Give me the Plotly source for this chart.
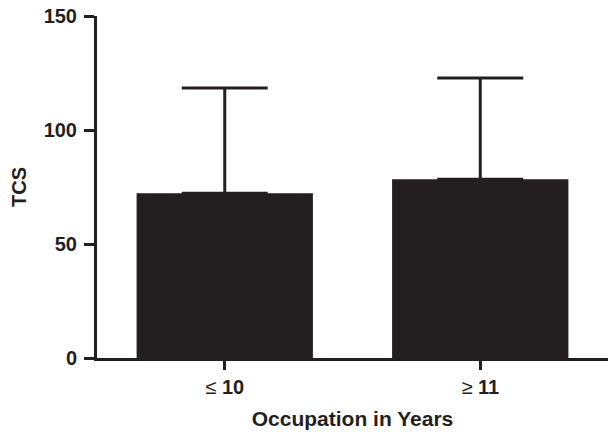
import plotly.graph_objects as go

categories = ["≤ <b>10</b>", "≥ <b>11</b>"]
means = [72.3, 78.4]
sd_upper = [46.1, 44.4]
y_ticks = [0, 50, 100, 150]

ink = "#231f20"
family = "Liberation Sans, Arial, Helvetica, sans-serif"
font = dict(family=family, size=20, color=ink)

fig = go.Figure(
    go.Bar(
        x=[0, 1],
        y=means,
        width=0.69,
        marker=dict(color=ink, line=dict(width=0)),
        error_y=dict(type="data", array=sd_upper, symmetric=False, arrayminus=[0, 0],
                     color=ink, thickness=3, width=43),
    )
)

fig.update_layout(
    width=608, height=432,
    margin=dict(l=97, r=0, t=16, b=74),
    paper_bgcolor="white", plot_bgcolor="white",
    font=font, showlegend=False,
)
fig.update_xaxes(
    range=[-0.5, 1.5], tickvals=[0, 1], ticktext=categories,
    showline=True, linecolor=ink, linewidth=3,
    ticks="outside", ticklen=9, tickwidth=3, tickcolor=ink,
    showgrid=False, zeroline=False,
    tickfont=dict(family=family, size=20, color=ink),
    title=dict(text="<b>Occupation in Years</b>", standoff=15,
               font=dict(family=family, size=21, color=ink)),
)
fig.update_yaxes(
    range=[0, 150], tickvals=y_ticks, ticktext=[f"<b>{v}</b>" for v in y_ticks],
    showline=True, linecolor=ink, linewidth=3,
    ticks="outside", ticklen=10, tickwidth=3, tickcolor=ink,
    showgrid=False, zeroline=False,
    ticklabelstandoff=3,
    tickfont=dict(family=family, size=20, color=ink),
    title=dict(text="<b>TCS</b>", standoff=12,
               font=dict(family=family, size=20, color=ink)),
)

fig.write_html("out.html")
